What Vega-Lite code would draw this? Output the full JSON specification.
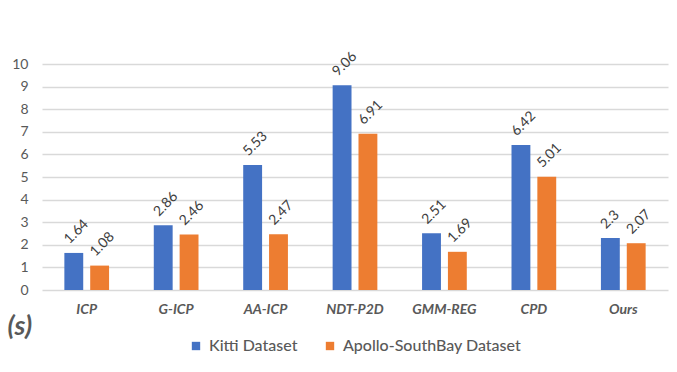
{
  "$schema": "https://vega.github.io/schema/vega-lite/v6.json",
  "width": 626,
  "height": 226,
  "autosize": {"type": "none"},
  "padding": {"left": 42, "top": 64, "right": 9, "bottom": 82},
  "background": "white",
  "config": {
    "view": {"stroke": null},
    "font": "Lato",
    "legend": {"layout": {"bottom": {"anchor": "middle"}}}
  },
  "data": {
    "values": [
      {"method": "ICP", "dataset": "Kitti Dataset", "value": 1.64, "label": "1.64"},
      {"method": "ICP", "dataset": "Apollo-SouthBay Dataset", "value": 1.08, "label": "1.08"},
      {"method": "G-ICP", "dataset": "Kitti Dataset", "value": 2.86, "label": "2.86"},
      {"method": "G-ICP", "dataset": "Apollo-SouthBay Dataset", "value": 2.46, "label": "2.46"},
      {"method": "AA-ICP", "dataset": "Kitti Dataset", "value": 5.53, "label": "5.53"},
      {"method": "AA-ICP", "dataset": "Apollo-SouthBay Dataset", "value": 2.47, "label": "2.47"},
      {"method": "NDT-P2D", "dataset": "Kitti Dataset", "value": 9.06, "label": "9.06"},
      {"method": "NDT-P2D", "dataset": "Apollo-SouthBay Dataset", "value": 6.91, "label": "6.91"},
      {"method": "GMM-REG", "dataset": "Kitti Dataset", "value": 2.51, "label": "2.51"},
      {"method": "GMM-REG", "dataset": "Apollo-SouthBay Dataset", "value": 1.69, "label": "1.69"},
      {"method": "CPD", "dataset": "Kitti Dataset", "value": 6.42, "label": "6.42"},
      {"method": "CPD", "dataset": "Apollo-SouthBay Dataset", "value": 5.01, "label": "5.01"},
      {"method": "Ours", "dataset": "Kitti Dataset", "value": 2.3, "label": "2.3"},
      {"method": "Ours", "dataset": "Apollo-SouthBay Dataset", "value": 2.07, "label": "2.07"}
    ]
  },
  "encoding": {
    "x": {
      "field": "method",
      "type": "nominal",
      "sort": ["ICP", "G-ICP", "AA-ICP", "NDT-P2D", "GMM-REG", "CPD", "Ours"],
      "scale": {"paddingInner": 0.5, "paddingOuter": 0.25},
      "axis": {
        "title": null,
        "labelAngle": 0,
        "domain": false,
        "ticks": false,
        "labelPadding": 12,
        "labelFontSize": 14,
        "labelFontStyle": "italic",
        "labelFontWeight": "bold",
        "labelColor": "#595959"
      }
    },
    "xOffset": {
      "field": "dataset",
      "type": "nominal",
      "sort": ["Kitti Dataset", "Apollo-SouthBay Dataset"],
      "scale": {"paddingInner": 0.27, "paddingOuter": 0}
    },
    "y": {
      "field": "value",
      "type": "quantitative",
      "scale": {"domain": [0, 10], "nice": false},
      "axis": {
        "values": [0, 1, 2, 3, 4, 5, 6, 7, 8, 9, 10],
        "title": "(s)",
        "titleAngle": 0,
        "titleAlign": "left",
        "titleBaseline": "middle",
        "titleX": -35,
        "titleY": 262,
        "titleFontSize": 27,
        "titleFontStyle": "italic",
        "titleFontWeight": "bold",
        "titleColor": "#595959",
        "domain": false,
        "ticks": false,
        "labelPadding": 14,
        "labelFontSize": 14,
        "labelColor": "#595959",
        "gridColor": "#D9D9D9",
        "gridWidth": 1.5
      }
    }
  },
  "layer": [
    {
      "mark": {"type": "bar"},
      "encoding": {
        "color": {
          "field": "dataset",
          "type": "nominal",
          "sort": ["Kitti Dataset", "Apollo-SouthBay Dataset"],
          "scale": {"domain": ["Kitti Dataset", "Apollo-SouthBay Dataset"], "range": ["#4472C4", "#ED7D31"]},
          "legend": {
            "title": null,
            "orient": "bottom",
            "direction": "horizontal",
            "symbolType": "square",
            "symbolSize": 70,
            "symbolStrokeWidth": 0,
            "symbolOffset": 0,
            "labelOffset": 5,
            "labelFontSize": 16,
            "labelFontWeight": 500,
            "labelLimit": 0,
            "labelColor": "#595959",
            "columnPadding": 24,
            "offset": 22
          }
        }
      }
    },
    {
      "mark": {
        "type": "text",
        "angle": -45,
        "align": "left",
        "baseline": "middle",
        "dx": 3,
        "dy": -13,
        "fontSize": 14,
        "color": "#404040"
      },
      "encoding": {
        "text": {"field": "label", "type": "nominal"}
      }
    }
  ]
}
